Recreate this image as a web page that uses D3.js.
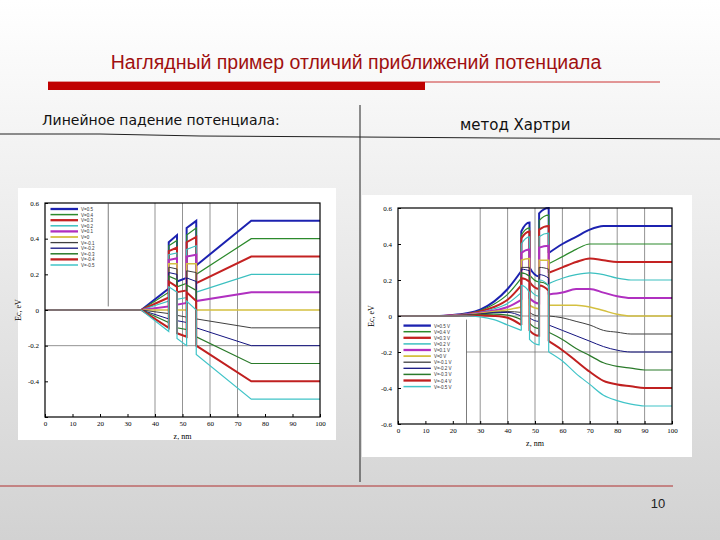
<!DOCTYPE html>
<html><head><meta charset="utf-8">
<script src="https://cdn.jsdelivr.net/npm/d3@7"></script>
<style>body{margin:0}svg{display:block}</style>
</head><body>
<script>
const labelsL = ["V=0.5","V=0.4","V=0.3","V=0.2","V=0.1","V=0","V=-0.1","V=-0.2","V=-0.3","V=-0.4","V=-0.5"]
const labelsR = ["V=0.5 V","V=0.4 V","V=0.3 V","V=0.2 V","V=0.1 V","V=0 V","V=-0.1 V","V=-0.2 V","V=-0.3 V","V=-0.4 V","V=-0.5 V"]
const colors = ["#1c22b0","#2c8a2c","#c42222","#3cc0c0","#b030c0","#d4c040","#404040","#141480","#2a7a2a","#c02020","#40c4c8"]
const widths = [2,1.2,2,1.2,2,1.5,1,1,1.2,2,1.2]
const xTicks = [0,10,20,30,40,50,60,70,80,90,100]
const yTicks = [0.6,0.4,0.2,0,-0.2,-0.4,-0.6]
const yTickLabels = ["0.6","0.4","0.2","0","-0.2","-0.4",""]

// left: linear potential drop, values per series at the breakpoints
const zL = [0,35,45,45,48,48,51.5,51.5,55,55,75,100]
const eL45 = [.12,.10,.07,.05,.02,0,-.02,-.05,-.07,-.10,-.12]
const eL45t = [.38,.36,.33,.31,.28,.26,.24,.21,.19,.16,.13]
const eL48t = [.42,.39,.35,.32,.29,.26,.23,.20,.17,.13,.10]
const eL48 = [.16,.13,.10,.06,.03,0,-.03,-.06,-.10,-.13,-.16]
const eL51 = [.18,.15,.11,.07,.04,0,-.04,-.07,-.11,-.15,-.20]
const eL51t = [.46,.42,.38,.34,.30,.26,.22,.18,.14,.10,.05]
const eL55t = [.50,.46,.41,.36,.31,.26,.21,.16,.11,.05,0]
const eL55 = [.25,.20,.15,.10,.05,0,-.05,-.10,-.15,-.20,-.25]
const eLend = [.5,.4,.3,.2,.1,0,-.1,-.2,-.3,-.4,-.5]

// right: Hartree
const zRpre = [0,15,20,25,30,35,40,45]
const eRpre = [
  [0,0,.005,.015,.035,.08,.15,.25],
  [0,0,.005,.012,.03,.065,.12,.21],
  [0,0,.004,.01,.025,.05,.09,.17],
  [0,0,.003,.01,.02,.04,.07,.13],
  [0,0,.003,.008,.018,.03,.05,.09],
  [0,0,.002,.006,.015,.025,.035,.05],
  [0,0,.002,.005,.012,.02,.025,.02],
  [0,0,.002,.005,.01,.018,.02,0],
  [0,0,.001,.004,.008,.01,.005,-.02],
  [0,0,0,.002,.003,0,-.01,-.05],
  [0,0,0,0,-.005,-.02,-.05,-.08]]
const eR45t = [.47,.45,.43,.40,.35,.31,.27,.26,.24,.21,.17]
const eR48t = [.52,.49,.47,.44,.37,.32,.27,.25,.22,.19,.13]
const eR48 = [.27,.23,.19,.15,.10,.06,.02,-.01,-.04,-.08,-.13]
const eR51 = [.22,.19,.15,.11,.07,.04,0,-.03,-.07,-.11,-.16]
const eR51t = [.57,.53,.48,.44,.38,.31,.27,.23,.19,.17,.20]
const eR55t = [.60,.56,.50,.46,.39,.31,.26,.21,.17,.14,.17]
const zRpost = [55,60,65,70,75,80,85,90,100]
const eRpost = [
  [.35,.40,.44,.48,.50,.50,.50,.50,.50],
  [.29,.33,.37,.40,.40,.40,.40,.40,.40],
  [.24,.27,.30,.32,.31,.30,.30,.30,.30],
  [.18,.21,.23,.24,.23,.21,.20,.20,.20],
  [.12,.13,.15,.15,.13,.11,.10,.10,.10],
  [.06,.06,.06,.05,.03,.01,0,0,0],
  [0,-.01,-.03,-.05,-.08,-.09,-.10,-.10,-.10],
  [-.05,-.08,-.11,-.14,-.17,-.19,-.20,-.20,-.20],
  [-.09,-.13,-.18,-.22,-.26,-.28,-.29,-.30,-.30],
  [-.14,-.19,-.25,-.31,-.36,-.38,-.39,-.40,-.40],
  [-.20,-.25,-.32,-.38,-.44,-.47,-.49,-.50,-.50]]

const W = 720, H = 540
const svg = d3.select('body').append('svg').attr('width', W).attr('height', H)
  .style('font-family', 'Liberation Sans, Arial, sans-serif')
const grad = svg.append('defs').append('linearGradient').attr('id', 'bg')
  .attr('x1', 0).attr('y1', 0).attr('x2', 0).attr('y2', 1)
grad.append('stop').attr('offset', 0).attr('stop-color', '#ffffff')
grad.append('stop').attr('offset', 1).attr('stop-color', '#d2d2d2')
svg.append('rect').attr('width', W).attr('height', H).attr('fill', 'url(#bg)')

// header
svg.append('text').attr('x', 356).attr('y', 69).attr('text-anchor', 'middle')
  .attr('font-size', 19.5).attr('fill', '#a01010').text('Наглядный пример отличий приближений потенциала')
svg.append('line').attr('x1', 48).attr('x2', 660).attr('y1', 82).attr('y2', 82).attr('stroke', '#c00000').attr('stroke-width', 0.8)
svg.append('rect').attr('x', 48).attr('y', 82).attr('width', 377).attr('height', 8).attr('fill', '#c00000')
svg.append('text').attr('x', 42).attr('y', 125).attr('font-size', 14).attr('fill', '#111')
  .style('font-family', 'DejaVu Sans').text('Линейное падение потенциала:')
svg.append('text').attr('x', 460).attr('y', 130).attr('font-size', 15).attr('fill', '#111')
  .style('font-family', 'DejaVu Sans').text('метод Хартри')
svg.append('path').attr('d', 'M0,134 L100,134 L200,136 L360,137 L500,138 L720,139').attr('fill', 'none').attr('stroke', '#222')
svg.append('line').attr('x1', 360).attr('x2', 360).attr('y1', 105).attr('y2', 482).attr('stroke', '#222')
svg.append('line').attr('x1', 0).attr('x2', 673).attr('y1', 486).attr('y2', 486).attr('stroke', '#b03030')
svg.append('text').attr('x', 658).attr('y', 508).attr('text-anchor', 'middle').attr('font-size', 13).attr('fill', '#222').text('10')

function drawPanel(o) {
  const g = svg.append('g')
  g.append('rect').attr('x', o.bx).attr('y', o.by).attr('width', o.bw).attr('height', o.bh).attr('fill', '#fff')
  const x = d3.scaleLinear().domain([0, 100]).range([o.x0, o.x1])
  const y = d3.scaleLinear().domain([-0.6, 0.6]).range([o.y1, o.y0])
  o.vgrid.forEach(v => g.append('line').attr('x1', x(v)).attr('x2', x(v)).attr('y1', y(0.6)).attr('y2', y(-0.6)).attr('stroke', '#666').attr('stroke-width', 0.7))
  o.hgrid.forEach(h => g.append('line').attr('x1', x(h[1])).attr('x2', x(100)).attr('y1', y(h[0])).attr('y2', y(h[0])).attr('stroke', '#666').attr('stroke-width', 0.7))
  const line = d3.line().x(d => x(d[0])).y(d => y(d[1])).curve(o.curve)
  o.series.forEach((s, i) => {
    if (Array.isArray(s[0][0])) {
      s.forEach(part => g.append('path').attr('d', line(part)).attr('fill', 'none').attr('stroke', colors[i]).attr('stroke-width', widths[i]))
    } else {
      g.append('path').attr('d', line(s)).attr('fill', 'none').attr('stroke', colors[i]).attr('stroke-width', widths[i])
    }
  })
  g.append('rect').attr('x', x(0)).attr('y', y(0.6)).attr('width', x(100) - x(0)).attr('height', y(-0.6) - y(0.6))
    .attr('fill', 'none').attr('stroke', '#000').attr('stroke-width', 1.2)
  g.append('g').attr('transform', `translate(0,${y(-0.6)})`)
    .call(d3.axisBottom(x).tickValues(xTicks).tickSize(-3).tickPadding(4))
    .call(a => a.select('.domain').remove())
    .call(a => a.selectAll('text').attr('font-size', 7).style('font-family', 'Liberation Serif'))
  g.append('g').attr('transform', `translate(${x(0)},0)`)
    .call(d3.axisLeft(y).tickValues(yTicks).tickFormat((d, i) => o.ylabels[i]).tickSize(-3).tickPadding(6))
    .call(a => a.select('.domain').remove())
    .call(a => a.selectAll('text').attr('font-size', 7).style('font-family', 'Liberation Serif'))
  g.append('text').attr('x', x(50)).attr('y', y(-0.6) + 22).attr('text-anchor', 'middle').attr('font-size', 8).style('font-family', 'Liberation Serif').text('z, nm')
  g.append('text').attr('transform', `translate(${x(0) - 24},${y(0)}) rotate(-90)`).attr('text-anchor', 'middle').attr('font-size', 8).style('font-family', 'Liberation Serif').text('Ec, eV')
  // legend
  const lg = o.legend
  g.append('line').attr('x1', x(lg.edge)).attr('x2', x(lg.edge)).attr('y1', y(lg.top)).attr('y2', y(lg.bottom)).attr('stroke', '#444').attr('stroke-width', 0.7)
  o.labels.forEach((t, i) => {
    const yy = y(lg.top) + 6 + i * lg.step
    g.append('line').attr('x1', x(lg.lx0)).attr('x2', x(lg.lx1)).attr('y1', yy).attr('y2', yy).attr('stroke', colors[i]).attr('stroke-width', widths[i] + 0.3)
    g.append('text').attr('x', x(lg.lx1) + 3).attr('y', yy + 2).attr('font-size', 4.5).attr('fill', '#333').text(t)
  })
}

const seriesL = labelsL.map((_, i) => {
  const v = [0, 0, eL45[i], eL45t[i], eL48t[i], eL48[i], eL51[i], eL51t[i], eL55t[i], eL55[i], eLend[i], eLend[i]]
  return zL.map((z, k) => [z, v[k]])
})
const seriesR = labelsR.map((_, i) => [
  zRpre.map((z, k) => [z, eRpre[i][k]]),
  [[45, eRpre[i][7]], [45, eR45t[i]], [48, eR48t[i]], [48, eR48[i]], [51.5, eR51[i]], [51.5, eR51t[i]], [55, eR55t[i]], [55, eRpost[i][0]]],
  zRpost.map((z, k) => [z, eRpost[i][k]])
])

drawPanel({ bx: 18, by: 188, bw: 318, bh: 252, x0: 45, x1: 320, y0: 203, y1: 417,
  vgrid: [40, 50, 60, 70], hgrid: [[-0.2, 0]], curve: d3.curveLinear, series: seriesL,
  ylabels: yTickLabels, labels: labelsL,
  legend: { edge: 23, top: 0.6, bottom: 0.02, lx0: 2, lx1: 12, step: 5.6 } })
drawPanel({ bx: 362, by: 195, bw: 330, bh: 262, x0: 398, x1: 672, y0: 208, y1: 424,
  vgrid: [30, 40, 50, 60, 70, 80, 90], hgrid: [[0, 0], [-0.2, 25]], curve: d3.curveMonotoneX, series: seriesR,
  ylabels: ["0.6","0.4","0.2","0","-0.2","-0.4","-0.6"], labels: labelsR,
  legend: { edge: 25, top: -0.02, bottom: -0.6, lx0: 2, lx1: 12, step: 6.1 } })
</script>
</body></html>
